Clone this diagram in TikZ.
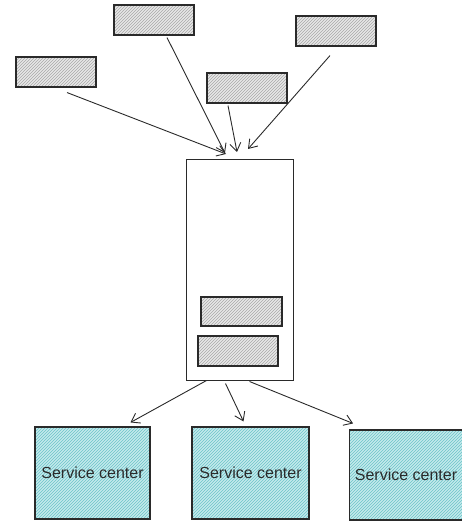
\documentclass[tikz,border=0pt]{standalone}
\usepackage{fontspec}
\setmainfont{Liberation Sans}
\usetikzlibrary{patterns,arrows.meta}
\definecolor{hatchgray}{HTML}{A8A8A8}
\definecolor{basegray}{HTML}{E8E8E8}
\definecolor{hatchcyan}{HTML}{6CC4C8}
\definecolor{basecyan}{HTML}{C4EAEC}
\definecolor{ink}{HTML}{2A2A2A}
\tikzset{
  graybox/.style={draw=ink, line width=1.1pt, preaction={fill=basegray},
    pattern=north east lines, pattern color=hatchgray,
    minimum width=80pt, minimum height=30pt, inner sep=0pt},
  servbox/.style={draw=ink, line width=1.1pt, preaction={fill=basecyan},
    pattern=north east lines, pattern color=hatchcyan,
    inner sep=0pt, font=\fontsize{16}{18}\selectfont, text=ink},
  tallbox/.style={draw=ink, line width=1pt, fill=white, inner sep=0pt},
  arr/.style={draw=ink, line width=0.9pt, -{Straight Barb[length=8pt,width=11pt]}}
}
\begin{document}
\begin{tikzpicture}[x=1pt,y=-1pt]
\useasboundingbox (0,0) rectangle (462,521);
% top boxes
\node[graybox] (A) at (56,72) {};
\node[graybox] (B) at (154,20) {};
\node[graybox] (C) at (247,88) {};
\node[graybox] (D) at (336,31) {};
% tall box
\node[tallbox, minimum width=107pt, minimum height=220pt] (T) at (239.5,270) {};
\node[graybox, minimum width=81pt, minimum height=29pt] (I1) at (241.5,311.5) {};
\node[graybox, minimum width=80pt, minimum height=30pt] (I2) at (238,351) {};
% service centers
\node[servbox, minimum width=115pt, minimum height=92pt] (S1) at (92.5,473) {Service center};
\node[servbox, minimum width=117pt, minimum height=92pt] (S2) at (250.5,473) {Service center};
\node[servbox, minimum width=113pt, minimum height=90pt, anchor=west] (S3) at (349,475) {Service center};
% incoming arrows
\coordinate (tA) at (226,154);
\coordinate (tB) at (225,153);
\coordinate (tC) at (237,152);
\coordinate (tD) at (248,149);
\draw[arr] ([shift={(11,5)}]A.south) -- (tA);
\draw[arr] ([shift={(13,2)}]B.south) -- (tB);
\draw[arr] ([shift={(-19,2)}]C.south) -- (tC);
\draw[arr] ([shift={(-6,9)}]D.south) -- (tD);
% outgoing arrows
\draw[arr] ([shift={(-33,0)}]T.south) -- ([shift={(38,-4)}]S1.north);
\draw[arr] ([shift={(-14,3)}]T.south) -- ([shift={(-7,-5)}]S2.north);
\draw[arr] ([shift={(10,1)}]T.south) -- ([shift={(-53,-6)}]S3.north);
\end{tikzpicture}
\end{document}
